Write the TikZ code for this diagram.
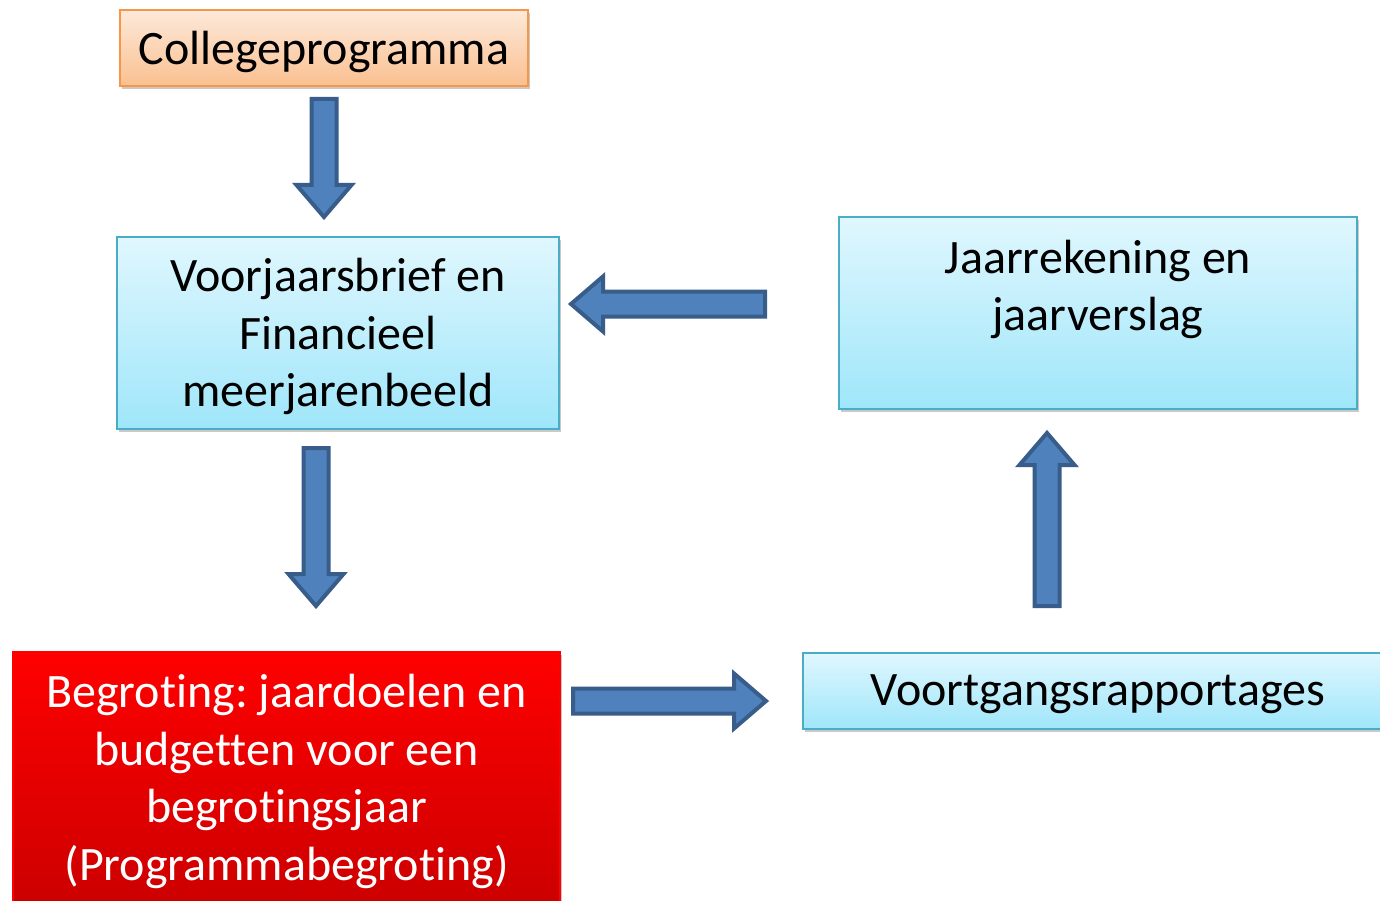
\documentclass[tikz,border=0pt]{standalone}
\usepackage{fontspec}
\setmainfont{Carlito}[Ligatures=NoCommon]
\frenchspacing
\usetikzlibrary{shadows}
\definecolor{arrfill}{HTML}{4F81BD}
\definecolor{arrline}{HTML}{385D8A}
\definecolor{orTop}{HTML}{FDE9DA}
\definecolor{orBot}{HTML}{FAC090}
\definecolor{orLine}{HTML}{F79646}
\definecolor{cyTop}{HTML}{E0F7FE}
\definecolor{cyBot}{HTML}{9FE6FA}
\definecolor{cyLine}{HTML}{4BACC6}
\definecolor{rdTop}{HTML}{FF0000}
\definecolor{rdBot}{HTML}{CC0000}
\newcommand\blkarrow[4]{%
  \begin{scope}[shift={(#1,#2)},rotate=#3]
    \draw[barrow] (0,-12.5) -- (#4-32,-12.5) -- (#4-32,-27.5) -- (#4,0)
      -- (#4-32,27.5) -- (#4-32,12.5) -- (0,12.5) -- cycle;
  \end{scope}}
\begin{document}
\begin{tikzpicture}[x=1pt,y=1pt,
  barrow/.style={fill=arrfill,draw=arrline,line width=4pt,line join=miter},
  box/.style={rectangle,inner sep=0pt,line width=2pt,
    drop shadow={shadow xshift=2pt,shadow yshift=-3pt,opacity=0.35,fill=black!60}},
  txt/.style={inner sep=0pt,align=center,font=\fontsize{48}{57.5}\selectfont},
  orangebox/.style={box,draw=orLine,top color=orTop,bottom color=orBot},
  cyanbox/.style={box,draw=cyLine,top color=cyTop,bottom color=cyBot},
  redbox/.style={box,draw=rdTop,top color=rdTop,bottom color=rdBot}]
\useasboundingbox (0,0) rectangle (1380,-901);
\fill[white] (0,0) rectangle (1380,-901);
\clip (0,0) rectangle (1380,-901);

\node[orangebox,minimum width=408pt,minimum height=76pt] (college) at (324,-48) {};
\node[txt] (collegeT) at ([yshift=-3.5pt]college.center) {Collegeprogramma};

\node[cyanbox,minimum width=442pt,minimum height=192pt] (voorjaar) at (338,-333) {};
\node[txt] (voorjaarT) at ([yshift=-3.5pt]voorjaar.center)
  {Voorjaarsbrief en\\Financieel\\meerjarenbeeld};

\node[cyanbox,minimum width=518pt,minimum height=192pt] (jaar) at (1098,-313) {};
\node[txt] (jaarT) at ([yshift=-1pt]jaar.center)
  {Jaarrekening en\\jaarverslag\\\mbox{}};

\node[redbox,minimum width=547pt,minimum height=252pt] (begroting) at (286.5,-778) {};
\node[txt,text=white] (begrotingT) at ([yshift=-3.5pt]begroting.center)
  {Begroting: jaardoelen en\\budgetten voor een\\begrotingsjaar\\(Programmabegroting)};

\node[cyanbox,minimum width=590pt,minimum height=76pt] (voortgang) at (1098,-691) {};
\node[txt] (voortgangT) at ([yshift=-3.5pt]voortgang.center) {Voortgangsrapportages};

\blkarrow{324}{-99}{-90}{118}
\blkarrow{765}{-304}{180}{194}
\blkarrow{316}{-448}{-90}{158}
\blkarrow{573}{-701}{0}{193}
\blkarrow{1047}{-606}{90}{173}
\end{tikzpicture}
\end{document}
